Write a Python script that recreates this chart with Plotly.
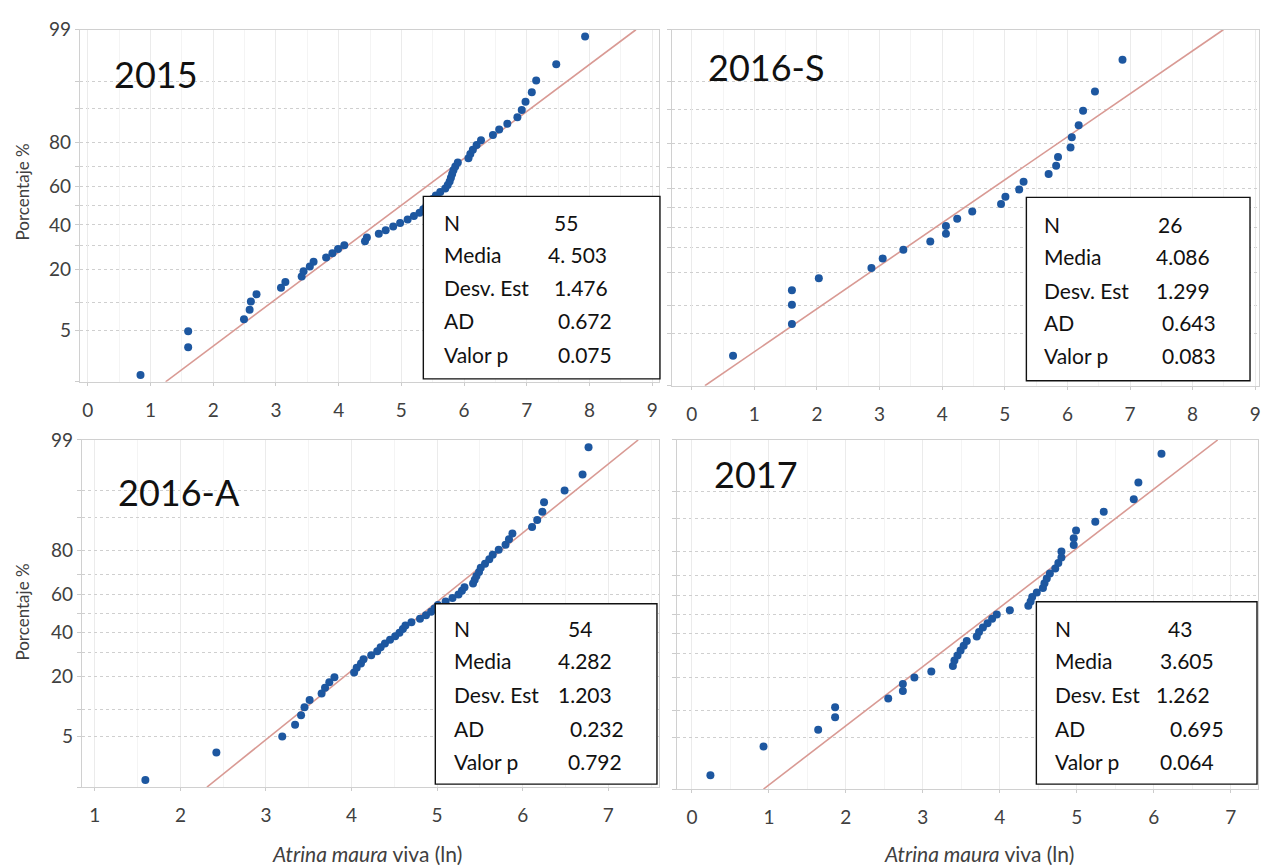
import plotly.graph_objects as go
from statistics import NormalDist

W, H = 1266, 865
FONT = "Lato"
TXT = "#404040"

# ---- data: sorted ln values per sampling period ----
vals_2015 = [0.84, 1.60, 1.60, 2.49, 2.58, 2.60, 2.69, 3.08, 3.15, 3.41,
             3.44, 3.54, 3.60, 3.80, 3.90, 3.99, 4.09, 4.42, 4.45, 4.64,
             4.75, 4.87, 4.98, 5.10, 5.20, 5.29, 5.35, 5.40, 5.45, 5.50,
             5.55, 5.62, 5.70, 5.74, 5.77, 5.79, 5.81, 5.83, 5.86, 5.90,
             6.07, 6.10, 6.14, 6.20, 6.27, 6.46, 6.56, 6.69, 6.85, 6.92,
             6.98, 7.08, 7.15, 7.47, 7.93]
vals_2016s = [0.66, 1.60, 1.60, 1.60, 2.03, 2.87, 3.05, 3.38, 3.81, 4.06,
              4.06, 4.24, 4.48, 4.94, 5.01, 5.23, 5.30, 5.70, 5.82, 5.85,
              6.05, 6.07, 6.18, 6.25, 6.44, 6.88]
vals_2016a = [1.59, 2.42, 3.19, 3.34, 3.41, 3.45, 3.51, 3.65, 3.69, 3.74,
              3.80, 4.03, 4.06, 4.11, 4.14, 4.23, 4.30, 4.34, 4.39, 4.45,
              4.51, 4.56, 4.60, 4.63, 4.70, 4.80, 4.87, 4.93, 4.97, 5.01,
              5.10, 5.18, 5.25, 5.29, 5.32, 5.42, 5.44, 5.46, 5.49, 5.51,
              5.56, 5.61, 5.65, 5.72, 5.80, 5.84, 5.88, 6.11, 6.17, 6.23,
              6.25, 6.49, 6.70, 6.77]
vals_2017 = [0.24, 0.93, 1.64, 1.86, 1.86, 2.55, 2.74, 2.74, 2.89, 3.11,
             3.39, 3.41, 3.45, 3.49, 3.53, 3.57, 3.70, 3.73, 3.78, 3.84,
             3.90, 3.96, 4.13, 4.37, 4.40, 4.42, 4.48, 4.56, 4.58, 4.61,
             4.65, 4.72, 4.76, 4.80, 4.80, 4.96, 4.96, 4.99, 5.24, 5.35,
             5.74, 5.80, 6.10]

# fitted normal line: x where it crosses 1 % and 99 %
fit_2015 = [1.24, 8.74]
fit_2016s = [0.21, 8.49]
fit_2016a = [2.31, 7.35]
fit_2017 = [0.93, 6.83]

stat_names = ["N", "Media", "Desv. Est", "AD", "Valor p"]
stats_2015 = ["55", "4. 503", "1.476", "0.672", "0.075"]
stats_2016s = ["26", "4.086", "1.299", "0.643", "0.083"]
stats_2016a = ["54", "4.282", "1.203", "0.232", "0.792"]
stats_2017 = ["43", "3.605", "1.262", "0.695", "0.064"]

pct_labels = [5, 20, 40, 60, 80, 99]
pct_grid = [1, 10, 30, 50, 70, 90, 95]
x_ticks_top = [0, 1, 2, 3, 4, 5, 6, 7, 8, 9]
x_ticks_a = [1, 2, 3, 4, 5, 6, 7]
x_ticks_b = [0, 1, 2, 3, 4, 5, 6, 7]

nd = NormalDist()


def z(p):
    return nd.inv_cdf(p / 100.0)


def fx(px):
    return px / W


def fy(py):
    return 1 - py / H


# layout of each panel (pixel boxes)
panels = [
    dict(name="2015", vals=vals_2015, fit=fit_2015, stats=stats_2015,
         box=(80, 18, 660, 375), xr=(-0.127, 9.108), ticks=x_ticks_top,
         ylabels=True,
         title=(112, 63), sbox=(424, 187, 661, 372), lab_x=443,
         val_x=[553, 547, 553, 557, 557], rows=[213, 246, 279, 313, 347]),
    dict(name="2016-S", vals=vals_2016s, fit=fit_2016s, stats=stats_2016s,
         box=(673, 18, 1261, 379), xr=(-0.316, 9.06), ticks=x_ticks_top,
         ylabels=False,
         title=(707, 56), sbox=(1028, 188, 1252, 374), lab_x=1044,
         val_x=[1158, 1156, 1156, 1162, 1162], rows=[215, 248, 282, 315, 348]),
    dict(name="2016-A", vals=vals_2016a, fit=fit_2016a, stats=stats_2016a,
         box=(82, 434, 660, 786), xr=(0.848, 7.593), ticks=x_ticks_a,
         ylabels=True,
         title=(116, 487), sbox=(436, 600, 658, 783), lab_x=453,
         val_x=[567, 557, 557, 569, 567], rows=[625, 658, 692, 727, 760]),
    dict(name="2017", vals=vals_2017, fit=fit_2017, stats=stats_2017,
         box=(678, 434, 1260, 788), xr=(-0.195, 7.354), ticks=x_ticks_b,
         ylabels=False,
         title=(713, 468), sbox=(1038, 598, 1259, 783), lab_x=1055,
         val_x=[1168, 1160, 1156, 1170, 1160], rows=[625, 658, 692, 727, 760]),
]

fig = go.Figure()
layout = dict(
    width=W, height=H, margin=dict(l=0, r=0, t=0, b=0),
    paper_bgcolor="white", plot_bgcolor="white", showlegend=False,
    font=dict(family=FONT, color=TXT),
)
shapes = []
annotations = []

for k, p in enumerate(panels, start=1):
    xa = "x" if k == 1 else f"x{k}"
    ya = "y" if k == 1 else f"y{k}"
    L, T, R, B = p["box"]
    n = len(p["vals"])
    # median-rank plotting positions (Benard)
    probs = [100.0 * (i + 0.7) / (n + 0.4) for i in range(n)]
    fig.add_trace(go.Scatter(
        x=[p["fit"][0], p["fit"][1]], y=[z(1), z(99)], mode="lines",
        line=dict(color="#d99a94", width=1.6), xaxis=xa, yaxis=ya,
        hoverinfo="skip"))
    fig.add_trace(go.Scatter(
        x=p["vals"], y=[z(q) for q in probs], mode="markers",
        marker=dict(color="#1d57a0", size=8), xaxis=xa, yaxis=ya,
        cliponaxis=False))

    layout[f"xaxis{'' if k == 1 else k}"] = dict(
        domain=[fx(L), fx(R)], range=list(p["xr"]), anchor=ya,
        tickvals=p["ticks"], ticktext=[str(t) for t in p["ticks"]],
        tickfont=dict(size=19, color=TXT, family=FONT),
        ticks="outside", ticklen=3, tickcolor="#cccccc", ticklabelstandoff=8,
        ticklabeloverflow="allow",
        showgrid=True, gridcolor="#ebebeb", gridwidth=1,
        minor=dict(dtick=0.5, showgrid=True, gridcolor="#f4f4f4"),
        showline=True, linecolor="#d0d0d0", mirror=True, zeroline=False,
        fixedrange=True,
    )
    layout[f"yaxis{'' if k == 1 else k}"] = dict(
        domain=[fy(B), fy(T)], range=[z(1), z(99)], anchor=xa,
        tickvals=[z(q) for q in pct_labels],
        ticktext=[str(q) for q in pct_labels],
        showticklabels=p["ylabels"],
        tickfont=dict(size=19, color=TXT, family=FONT),
        ticks="outside", ticklen=4, tickcolor="#cccccc",
        showgrid=True, gridcolor="#cfcfcf", griddash="dot",
        minor=dict(tickvals=[z(q) for q in pct_grid], showgrid=True,
                   gridcolor="#cfcfcf", griddash="dot", ticks="outside",
                   ticklen=4, tickcolor="#cccccc"),
        showline=True, linecolor="#d0d0d0", mirror=True, zeroline=False,
        fixedrange=True,
    )

    # panel title
    tx, ty = p["title"]
    annotations.append(dict(
        x=fx(tx), y=fy(ty), xref="paper", yref="paper", text=p["name"],
        showarrow=False, xanchor="left", yanchor="middle",
        font=dict(size=36, color="#111111", family=FONT)))

    # statistics box
    x0, y0, x1, y1 = p["sbox"]
    shapes.append(dict(type="rect", xref="paper", yref="paper",
                       x0=fx(x0), x1=fx(x1), y0=fy(y1), y1=fy(y0),
                       line=dict(color="#111111", width=1.4),
                       fillcolor="white", layer="above"))
    for name, val, vx, ry in zip(stat_names, p["stats"], p["val_x"], p["rows"]):
        annotations.append(dict(
            x=fx(p["lab_x"]), y=fy(ry), xref="paper", yref="paper", text=name,
            showarrow=False, xanchor="left", yanchor="middle",
            font=dict(size=21, color="#111111", family=FONT)))
        annotations.append(dict(
            x=fx(vx), y=fy(ry), xref="paper", yref="paper", text=val,
            showarrow=False, xanchor="left", yanchor="middle",
            font=dict(size=21, color="#111111", family=FONT)))

# axis titles
for cy in (182, 608):
    annotations.append(dict(
        x=fx(23), y=fy(cy), xref="paper", yref="paper", text="Porcentaje %",
        textangle=-90, showarrow=False, xanchor="center", yanchor="middle",
        font=dict(size=17, color=TXT, family=FONT)))
for cx in (368, 981):
    annotations.append(dict(
        x=fx(cx), y=fy(853), xref="paper", yref="paper",
        text="<i>Atrina maura</i> viva (ln)", showarrow=False,
        xanchor="center", yanchor="middle",
        font=dict(size=21, color=TXT, family=FONT)))

layout["shapes"] = shapes
layout["annotations"] = annotations
fig.update_layout(**layout)
fig.write_html("out.html")
